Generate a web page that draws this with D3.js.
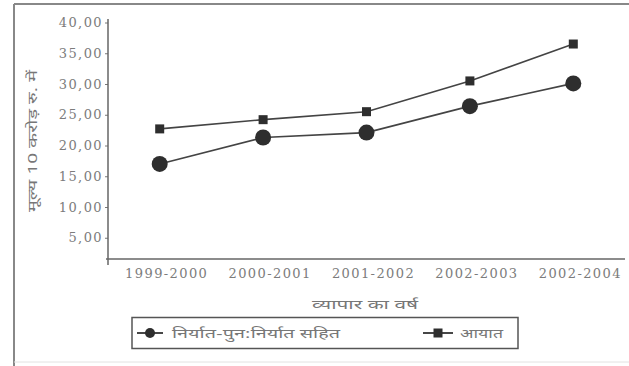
<!DOCTYPE html>
<html>
<head>
<meta charset="utf-8">
<script src="https://cdn.jsdelivr.net/npm/d3@7"></script>
<style>
  body { margin: 0; background: #fff; }
  .tick text { font-family: "DejaVu Serif", "Liberation Serif", serif; fill: #7c7c7c; letter-spacing: 1.4px; }
  .hi { font-family: "Noto Sans Devanagari", "Noto Sans", "DejaVu Sans", sans-serif; fill: #777; }
</style>
</head>
<body>
<svg id="chart" width="629" height="366"></svg>
<script>
// values
const years = ['1999-2000', '2000-2001', '2001-2002', '2002-2003', '2002-2004'];
const exportsVals = [17.0, 21.3, 22.1, 26.4, 30.1];   // निर्यात-पुन:निर्यात सहित
const importsVals = [22.7, 24.2, 25.5, 30.5, 36.5];   // आयात
const yTicks = [5, 10, 15, 20, 25, 30, 35, 40];
const seriesNames = ['निर्यात-पुन:निर्यात सहित', 'आयात'];

const svg = d3.select('#chart');

// outer frame (cropped scan box)
svg.append('line').attr('x1', 14).attr('x2', 629).attr('y1', 4).attr('y2', 4)
    .attr('stroke', '#888').attr('stroke-width', 2);
svg.append('line').attr('x1', 14).attr('x2', 14).attr('y1', 4).attr('y2', 366)
    .attr('stroke', '#888').attr('stroke-width', 2);
svg.append('line').attr('x1', 14).attr('x2', 629).attr('y1', 362).attr('y2', 362)
    .attr('stroke', '#e2e2e2').attr('stroke-width', 1);

const left = 108, right = 625, axisY = 259;

var x = d3.scaleBand()
    .domain(years)
    .range([left, right]);

var y = d3.scaleLinear()
    .domain([0, 40])
    .range([268.5, 22.5]);

// y axis
var yAxis = svg.append('g')
    .attr('transform', 'translate(' + left + ',0)')
    .call(d3.axisLeft(y).tickValues(yTicks).tickSize(3).tickPadding(2)
        .tickFormat(function(d) { return d3.format('.2f')(d).replace('.', ','); }));
yAxis.select('.domain').remove();
yAxis.selectAll('.tick line').attr('stroke', '#777');
yAxis.selectAll('.tick text').attr('font-size', 13);
svg.append('line').attr('x1', left).attr('x2', left).attr('y1', 19).attr('y2', 265)
    .attr('stroke', '#666').attr('stroke-width', 1.5);

// x axis
var xAxis = svg.append('g')
    .attr('transform', 'translate(7,' + axisY + ')')
    .call(d3.axisBottom(x).tickSize(0).tickPadding(10));
xAxis.select('.domain').remove();
xAxis.selectAll('.tick text').attr('font-size', 13);
svg.append('line').attr('x1', left - 2).attr('x2', right).attr('y1', axisY).attr('y2', axisY)
    .attr('stroke', '#666').attr('stroke-width', 1.5);

// axis titles
svg.append('text').attr('class', 'hi')
    .attr('transform', 'translate(37,141) rotate(-90)')
    .attr('text-anchor', 'middle').attr('font-size', 13)
    .attr('textLength', 142).attr('lengthAdjust', 'spacingAndGlyphs')
    .text('मूल्य 10 करोड़ रु. में');
svg.append('text').attr('class', 'hi')
    .attr('x', 365).attr('y', 309)
    .attr('text-anchor', 'middle').attr('font-size', 13)
    .attr('textLength', 106).attr('lengthAdjust', 'spacingAndGlyphs')
    .text('व्यापार का वर्ष');

var cx = function(d, i) { return x(years[i]) + x.bandwidth() / 2; };
var line = d3.line()
    .x(function(d, i) { return cx(d, i); })
    .y(function(d) { return y(d); });

// lines
[exportsVals, importsVals].forEach(function(vals) {
    svg.append('path').datum(vals)
        .attr('d', line)
        .attr('fill', 'none')
        .attr('stroke', '#444')
        .attr('stroke-width', 1.6);
});

svg.selectAll('.exp')
    .data(exportsVals)
  .enter().append('circle')
    .attr('class', 'exp')
    .attr('cx', cx)
    .attr('cy', function(d) { return y(d); })
    .attr('r', 8)
    .attr('fill', '#2e2e2e');

svg.selectAll('.imp')
    .data(importsVals)
  .enter().append('rect')
    .attr('class', 'imp')
    .attr('x', function(d, i) { return cx(d, i) - 4.5; })
    .attr('y', function(d) { return y(d) - 4.5; })
    .attr('width', 9)
    .attr('height', 9)
    .attr('fill', '#2e2e2e');

// legend
var legend = svg.append('g');
legend.append('rect')
    .attr('x', 132).attr('y', 317.5).attr('width', 386).attr('height', 31)
    .attr('fill', '#fff').attr('stroke', '#555').attr('stroke-width', 1.5);

var ly = 333;
legend.append('line').attr('x1', 137).attr('x2', 163).attr('y1', ly).attr('y2', ly)
    .attr('stroke', '#333').attr('stroke-width', 1.8);
legend.append('circle').attr('cx', 150).attr('cy', ly).attr('r', 5).attr('fill', '#2e2e2e');
legend.append('text').attr('class', 'hi')
    .attr('x', 172).attr('y', ly + 4.5).attr('font-size', 13)
    .attr('textLength', 168).attr('lengthAdjust', 'spacingAndGlyphs')
    .text(seriesNames[0]);

legend.append('line').attr('x1', 423).attr('x2', 453).attr('y1', ly).attr('y2', ly)
    .attr('stroke', '#333').attr('stroke-width', 1.8);
legend.append('rect').attr('x', 433.5).attr('y', ly - 4.5).attr('width', 9).attr('height', 9).attr('fill', '#2e2e2e');
legend.append('text').attr('class', 'hi')
    .attr('x', 460).attr('y', ly + 4.5).attr('font-size', 13)
    .attr('textLength', 43).attr('lengthAdjust', 'spacingAndGlyphs')
    .text(seriesNames[1]);
</script>
</body>
</html>
